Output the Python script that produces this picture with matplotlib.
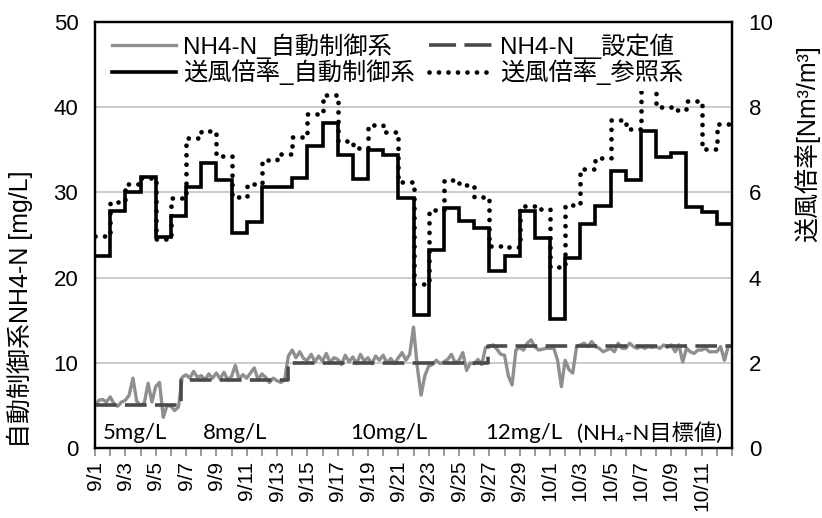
import datetime
import numpy as np
import matplotlib
matplotlib.use("Agg")
import matplotlib.pyplot as plt
from matplotlib.lines import Line2D

# ---- データ ----
start_date = datetime.date(2000, 9, 1)
n_days = 42

# 送風倍率 [Nm3/m3] 日毎
blower_auto = [4.50, 5.57, 6.00, 6.37, 4.96, 5.45, 6.13, 6.68, 6.29, 5.05,
               5.31, 6.13, 6.13, 6.35, 7.10, 7.62, 6.88, 6.31, 7.00, 6.88,
               5.88, 3.12, 4.66, 5.63, 5.34, 5.16, 4.16, 4.50, 5.57, 4.92,
               3.02, 4.45, 5.26, 5.68, 6.50, 6.29, 7.43, 6.84, 6.92, 5.65,
               5.55, 5.27]
blower_ref = [4.98, 5.78, 6.20, 6.33, 4.90, 5.86, 7.27, 7.45, 6.85, 5.90,
              6.20, 6.76, 6.90, 7.30, 7.85, 8.29, 7.20, 7.05, 7.58, 7.42,
              6.25, 3.85, 5.59, 6.30, 6.17, 5.89, 4.74, 4.73, 5.68, 5.60,
              4.26, 5.70, 6.55, 6.80, 7.70, 7.49, 8.50, 8.00, 7.93, 8.15,
              7.02, 7.60]

# NH4-N 自動制御系 [mg/L] 6時間毎
nh4_auto = [
    5.0, 5.6, 5.7, 5.4,   6.0, 5.2, 4.9, 5.4,   5.6, 6.2, 8.2, 5.5,
    5.0, 5.3, 7.6, 5.4,   7.2, 7.7, 3.6, 5.0,   4.9, 4.4, 4.8, 8.3,
    8.6, 8.2, 9.0, 8.3,   8.5, 8.0, 8.7, 8.2,   8.8, 8.1, 8.9, 8.0,
    8.4, 9.7, 8.1, 8.6,   8.2, 8.8, 9.4, 8.0,   8.7, 8.3, 7.7, 8.2,
    7.9, 7.7, 8.0, 10.8,  11.5, 10.6, 11.3, 10.5, 10.3, 11.0, 10.1, 10.8,
    10.2, 11.1, 10.0, 10.6, 10.4, 9.8, 10.9, 10.1, 10.7, 9.9, 11.0, 10.2,
    10.6, 9.9, 10.8, 10.3, 10.9, 10.0, 10.5, 9.9, 10.6, 11.2, 10.3, 11.0,
    14.2, 9.5, 6.2, 8.5,  9.6, 9.8, 10.3, 9.9,  10.1, 10.4, 11.0, 10.0,
    10.3, 11.2, 9.1, 10.0, 9.9, 10.4, 9.8, 11.8, 11.9, 12.1, 11.6, 11.0,
    10.9, 8.5, 7.4, 11.5, 11.8, 11.5, 12.3, 12.7, 11.9, 11.5, 11.6, 11.7,
    11.7, 11.7, 10.3, 7.2, 10.3, 9.2, 8.8, 11.9, 12.1, 12.3, 11.9, 12.5,
    11.9, 11.7, 11.3, 11.5, 11.7, 11.3, 12.3, 11.7, 11.7, 12.3, 11.9, 11.7,
    11.9, 11.7, 11.9, 11.8, 11.9, 11.7, 12.1, 11.8, 12.1, 11.3, 12.1, 10.1,
    11.7, 11.3, 11.1, 11.5, 11.5, 11.7, 11.3, 11.3, 11.3, 11.9, 10.3, 11.9,
    12.1]

# NH4-N 設定値 (目標値) と切替日
setpoint_edges = [0, 5.7, 12.7, 25.9, 42]
setpoint_vals = [5, 8, 10, 12]
target_labels = ["5mg/L", "8mg/L", "10mg/L", "12mg/L", "(NH₄-N目標値)"]
target_label_x = [0.5, 7.1, 16.8, 25.7, 31.8]

jp = ["Liberation Sans", "Noto Sans CJK JP", "DejaVu Sans"]
gray = "#8f8f8f"
dark = "#4a4a4a"
dash = (0, (6, 2.3))
dots = (0, (0.01, 2.0))

fig = plt.figure(figsize=(8.22, 5.18), dpi=100)
ax1 = fig.add_axes([0.1156, 0.1351, 0.7749, 0.8224])
ax2 = ax1.twinx()

edges = np.arange(n_days + 1)
t_nh4 = np.arange(len(nh4_auto)) * 0.25

ax1.plot(t_nh4, nh4_auto, color=gray, lw=2.4, zorder=3)
ax1.plot(setpoint_edges, setpoint_vals + setpoint_vals[-1:], drawstyle="steps-post",
         color=dark, lw=2.6, linestyle=dash, zorder=4)
ax2.plot(edges, blower_auto + blower_auto[-1:], drawstyle="steps-post",
         color="black", lw=2.6, solid_joinstyle="miter")
ax2.plot(edges, blower_ref + blower_ref[-1:], drawstyle="steps-post",
         color="black", lw=3.4, linestyle=dots, dash_capstyle="round")

# 軸設定
ax1.set_xlim(0, n_days)
ax1.set_ylim(0, 50)
ax2.set_ylim(0, 10)
ax1.set_yticks(range(0, 51, 10))
ax2.set_yticks(range(0, 11, 2))
ax1.yaxis.grid(True, color="#c4c4c4", lw=1.2)
ax1.set_axisbelow(True)

dates = [start_date + datetime.timedelta(days=int(d)) for d in range(0, n_days - 1, 2)]
ax1.set_xticks(range(0, n_days - 1, 2))
ax1.set_xticks(range(0, n_days + 1), minor=True)
ax1.set_xticklabels([f"{d.month}/{d.day}" for d in dates], rotation=90,
                    fontsize=15, family="Liberation Sans")
ax1.tick_params(axis="x", which="both", direction="out", length=6,
                width=1.2, color="#888888", pad=3)
ax1.tick_params(axis="y", length=0, pad=12, labelsize=16)
ax2.tick_params(axis="y", length=0, pad=12, labelsize=16)
for lab in ax1.get_yticklabels() + ax2.get_yticklabels():
    lab.set_family("Liberation Sans")

for ax in (ax1, ax2):
    for sp in ax.spines.values():
        sp.set_linewidth(1.6)
        sp.set_color("black")

ax1.set_ylabel("自動制御系NH4-N [mg/L]", fontsize=18, family=jp)
ax1.yaxis.set_label_coords(-0.097, 0.325)
ax2.set_ylabel("送風倍率[Nm³/m³]", fontsize=18, family=jp)
ax2.yaxis.set_label_coords(1.097, 0.715)

for txt, xd in zip(target_labels, target_label_x):
    ax1.text(xd, 1.8, txt, fontsize=16, family=["Lato", "Noto Sans CJK JP", "DejaVu Sans"],
             va="center", ha="left", zorder=5)

# 凡例
handles = [
    Line2D([], [], color=gray, lw=2.4),
    Line2D([], [], color="black", lw=2.6),
    Line2D([], [], color=dark, lw=2.6, linestyle=(0, (7.5, 2.3))),
    Line2D([], [], color="black", lw=3.4, linestyle=dots, dash_capstyle="round"),
]
labels = ["NH4-N_自動制御系", "送風倍率_自動制御系", "NH4-N__設定値", "送風倍率_参照系"]
leg = ax2.legend(handles, labels, ncol=2, loc="upper left",
                 bbox_to_anchor=(0.01, 1.0), frameon=True, fancybox=False,
                 edgecolor="none", facecolor="white", framealpha=1,
                 prop={"family": jp, "size": 17.5}, handlelength=2.6,
                 handletextpad=0.3, columnspacing=0.6, labelspacing=0.05,
                 borderaxespad=0.2, borderpad=0.25)

fig.savefig("out.png", dpi=100)
